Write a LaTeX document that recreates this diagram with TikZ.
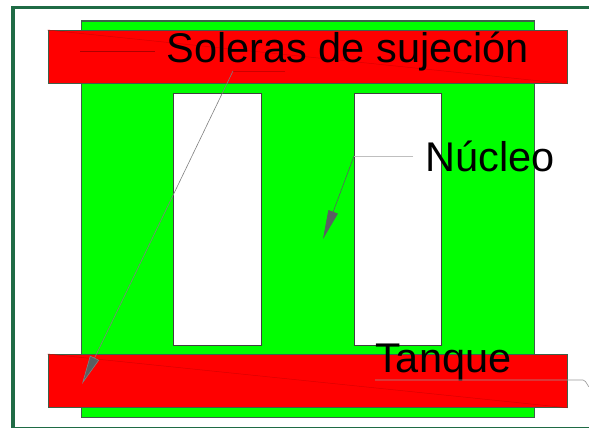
\documentclass[tikz,border=0pt]{standalone}
\usepackage{fontspec}
\setmainfont{Liberation Sans}
\usetikzlibrary{arrows.meta}
\definecolor{framegreen}{HTML}{1F6B45}
\definecolor{edgegray}{HTML}{3F5F4A}
\definecolor{leadgray}{HTML}{5A5F62}
\tikzset{
  core/.style={draw=edgegray,line width=1.1pt,fill=green},
  yoke/.style={draw=edgegray,line width=0.8pt,fill=red},
  window/.style={draw=black!75,line width=1.1pt,fill=white},
  label/.style={text=black,font=\fontsize{41.5}{41.5}\selectfont,inner sep=0pt,anchor=base west},
  leader/.style={draw=leadgray,line width=0.6pt},
  paleleader/.style={draw=black!25,line width=1pt},
  headed/.style={leader,-{Triangle[length=29pt,width=10pt,fill=leadgray]}},
  sheen/.style={draw=#1,line width=0.5pt}
}
\begin{document}
\begin{tikzpicture}[x=1pt,y=-1pt]
\useasboundingbox (0,0) rectangle (589,428);
\fill[white] (0,0) rectangle (589,428);
\draw[framegreen,line width=3.8pt] (589,7.5) -- (13,7.5) -- (13,428);
\draw[framegreen,line width=1.4pt] (13,427.3) -- (589,427.3);
\node[core,minimum width=453pt,minimum height=396.5pt,inner sep=0pt,anchor=north west] (nucleo) at (80.7,20.5) {};
\node[window,minimum width=87.5pt,minimum height=251.5pt,inner sep=0pt,anchor=north west] (win1) at (173.3,93) {};
\node[window,minimum width=87.5pt,minimum height=251.5pt,inner sep=0pt,anchor=north west] (win2) at (353.6,93) {};
\node[yoke,minimum width=519pt,minimum height=53pt,inner sep=0pt,anchor=north west] (top) at (47.7,30) {};
\node[yoke,minimum width=519pt,minimum height=53pt,inner sep=0pt,anchor=north west] (bot) at (47.7,354) {};
\draw[sheen=red!85!black] (top.north west) -- (top.south east);
\draw[sheen=red!85!black] (bot.north west) -- (bot.south east);
\node[label] (t1) at (166.5,63) {Soleras de sujeción};
\node[label] (t2) at (425.5,171.5) {Núcleo};
\node[label] (t3) at (375,372.5) {Tanque};
\coordinate (a1) at (80,51);
\coordinate (a2) at (155,51);
\coordinate (a3) at (285,71);
\coordinate (a4) at (233,71);
\coordinate (a5) at (82,384);
\coordinate (b1) at (413,156);
\coordinate (b2) at (354,156);
\coordinate (b3) at (323,239);
\coordinate (c1) at (375,380);
\coordinate (c2) at (589,386);
\draw[leader,draw=red!55!black,opacity=.7] (a1) -- (a2);
\draw[leader,draw=red!80!black] (a3) -- (a4);
\draw[headed,draw=gray] (a4) -- (a5);
\draw[paleleader] (b1) -- (b2);
\draw[headed] (b2) -- (b3);
\draw[paleleader,line width=.6pt,draw=black!40] (c1) -- (583,380) to[out=0,in=-90] (c2);
\end{tikzpicture}
\end{document}
